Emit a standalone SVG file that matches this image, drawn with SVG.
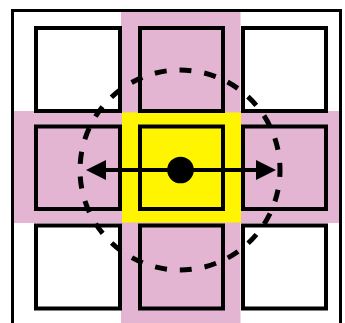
<svg xmlns="http://www.w3.org/2000/svg" width="345" height="323" viewBox="0 0 345 323">
<defs>
<style>
.cell{fill:none;stroke:#000;stroke-width:4}
.corner{fill:#fff;stroke:#000;stroke-width:4}
.pink{fill:#e3b5d3}
</style>
<marker id="ah" viewBox="0 0 20 20" refX="10" refY="10" markerWidth="20" markerHeight="20" markerUnits="userSpaceOnUse" orient="auto-start-reverse">
<path d="M0,0 L20,10 L0,20 Z" fill="#000"/>
</marker>
</defs>
<rect width="345" height="323" fill="#fff"/>
<g id="background">
<rect class="pink" x="121" y="12" width="119.5" height="311"/>
<rect class="pink" x="14" y="111" width="326" height="112"/>
<rect x="122" y="112.5" width="119" height="110" fill="#fff500"/>
<rect x="12.5" y="10.5" width="328" height="330" fill="none" stroke="#000" stroke-width="3"/>
</g>
<g id="cell-r1c1"><rect class="corner" x="36" y="28" width="84" height="83"/></g>
<g id="cell-r1c2"><rect class="cell" x="140" y="28" width="83" height="83"/></g>
<g id="cell-r1c3"><rect class="corner" x="243" y="28" width="83" height="83"/></g>
<g id="cell-r2c1"><rect class="cell" x="36" y="126.5" width="84" height="82.5"/></g>
<g id="cell-r2c2"><rect class="cell" x="140" y="126.5" width="83" height="82.5"/></g>
<g id="cell-r2c3"><rect class="cell" x="243" y="126.5" width="83" height="82.5"/></g>
<g id="cell-r3c1"><rect class="corner" x="36" y="225.5" width="84" height="83"/></g>
<g id="cell-r3c2"><rect class="cell" x="140" y="225.5" width="83" height="83"/></g>
<g id="cell-r3c3"><rect class="corner" x="243" y="225.5" width="83" height="83"/></g>
<g id="range"><circle cx="180" cy="170" r="100" fill="none" stroke="#000" stroke-width="5" stroke-dasharray="12 13" stroke-dashoffset="5"/></g>
<g id="connectors">
<line x1="96" y1="170" x2="266" y2="170" stroke="#000" stroke-width="4" marker-start="url(#ah)" marker-end="url(#ah)"/>
</g>
<g id="center"><circle cx="180.5" cy="170" r="13.3" fill="#000"/></g>
</svg>
